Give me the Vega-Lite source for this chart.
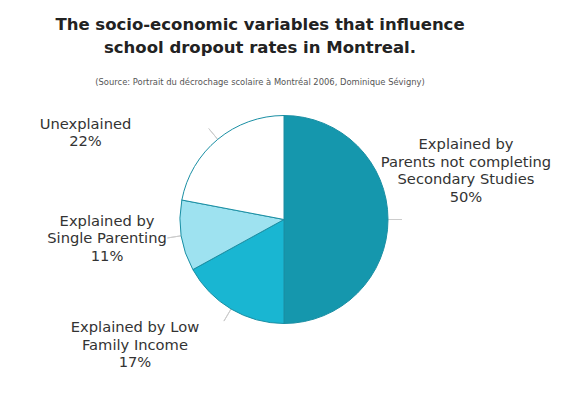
{
  "$schema": "https://vega.github.io/schema/vega-lite/v6.json",
  "width": 558,
  "height": 351,
  "autosize": {"type": "none"},
  "padding": {"left": 5, "top": 44, "right": 0, "bottom": 0},
  "background": "white",
  "config": {"view": {"stroke": null}, "font": "DejaVu Sans"},
  "title": {
    "text": ["The socio-economic variables that influence", "school dropout rates in Montreal."],
    "subtitle": "(Source: Portrait du décrochage scolaire à Montréal 2006, Dominique Sévigny)",
    "anchor": "middle",
    "frame": "group",
    "offset": -42,
    "dx": -24,
    "font": "DejaVu Sans",
    "fontSize": 16.5,
    "fontWeight": "bold",
    "color": "#222222",
    "lineHeight": 23,
    "subtitleFont": "DejaVu Sans",
    "subtitleFontSize": 8.4,
    "subtitleColor": "#555555",
    "subtitlePadding": 21
  },
  "data": {
    "values": [
      {"category": "Parents", "label": "Explained by\nParents not completing\nSecondary Studies\n50%", "value": 50, "order": 1},
      {"category": "Low Income", "label": "Explained by Low\nFamily Income\n17%", "value": 17, "order": 2},
      {"category": "Single Parenting", "label": "Explained by\nSingle Parenting\n11%", "value": 11, "order": 3},
      {"category": "Unexplained", "label": "Unexplained\n22%", "value": 22, "order": 4}
    ]
  },
  "encoding": {
    "theta": {"field": "value", "type": "quantitative", "stack": true},
    "order": {"field": "order", "type": "quantitative"}
  },
  "layer": [
    {
      "mark": {"type": "arc", "radius": 118, "radius2": 104, "padAngle": 3.2, "fill": "transparent", "stroke": "#cccccc", "strokeWidth": 1}
    },
    {
      "mark": {"type": "arc", "radius": 104, "stroke": "#1a8fa4", "strokeWidth": 1},
      "encoding": {
        "color": {
          "field": "category",
          "type": "nominal",
          "scale": {
            "domain": ["Parents", "Low Income", "Single Parenting", "Unexplained"],
            "range": ["#1597ad", "#19b6d2", "#9ee2f0", "#ffffff"]
          },
          "legend": null
        }
      }
    },
    {
      "mark": {"type": "text", "radius": 115, "dx": 67, "dy": -74.5, "align": "center", "baseline": "middle", "lineBreak": "\n", "lineHeight": 17.5, "fontSize": 14.7, "font": "DejaVu Sans", "color": "#333333"},
      "encoding": {"text": {"condition": {"test": "datum.category === 'Parents'", "field": "label"}, "value": ""}}
    },
    {
      "mark": {"type": "text", "radius": 115, "dx": -90.5, "dy": 10, "align": "center", "baseline": "middle", "lineBreak": "\n", "lineHeight": 17.5, "fontSize": 14.7, "font": "DejaVu Sans", "color": "#333333"},
      "encoding": {"text": {"condition": {"test": "datum.category === 'Low Income'", "field": "label"}, "value": ""}}
    },
    {
      "mark": {"type": "text", "radius": 115, "dx": -63.4, "dy": -15.5, "align": "center", "baseline": "middle", "lineBreak": "\n", "lineHeight": 17.5, "fontSize": 14.7, "font": "DejaVu Sans", "color": "#333333"},
      "encoding": {"text": {"condition": {"test": "datum.category === 'Single Parenting'", "field": "label"}, "value": ""}}
    },
    {
      "mark": {"type": "text", "radius": 115, "dx": -125.2, "dy": -6, "align": "center", "baseline": "middle", "lineBreak": "\n", "lineHeight": 17.5, "fontSize": 14.7, "font": "DejaVu Sans", "color": "#333333"},
      "encoding": {"text": {"condition": {"test": "datum.category === 'Unexplained'", "field": "label"}, "value": ""}}
    }
  ]
}
